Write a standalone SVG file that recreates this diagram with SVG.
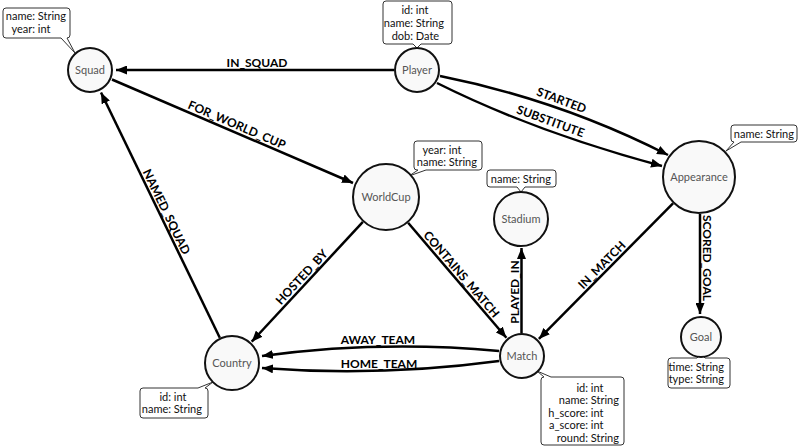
<svg xmlns="http://www.w3.org/2000/svg" width="800" height="446" viewBox="0 0 800 446">
<style>
.bg{fill:#fff}
.node circle{fill:#f9f9f9;stroke:#111;stroke-width:2}
.nl{font-family:Lato,"Open Sans",sans-serif;font-size:11px;fill:#555;text-anchor:middle}
.co{fill:#fff;stroke:#333;stroke-width:1}
.pr{font-family:Lato,"Open Sans",sans-serif;font-size:11px;fill:#111}
.e{fill:none;stroke:#000;stroke-width:2.5;marker-end:url(#ah)}
.el{font-family:Lato,"Open Sans",sans-serif;font-size:12px;font-weight:bold;fill:#000;text-anchor:middle}
</style>
<defs>
<marker id="ah" markerUnits="userSpaceOnUse" markerWidth="12" markerHeight="9" refX="11" refY="4.5" orient="auto">
<path d="M0,0 L11,4.5 L0,9 Z" fill="#000"/>
</marker>
</defs>
<rect class="bg" x="0" y="0" width="800" height="446"/>

<g id="connectors">
<path class="e" d="M394,70 L116,70"/>
<text class="el" transform="translate(257,70)" y="-3">IN_SQUAD</text>
<path class="e" d="M112,79.5 L353,183"/>
<text class="el" transform="translate(234,131.5) rotate(23.2)" y="-3">FOR_WORLD_CUP</text>
<path class="e" d="M219.8,337.8 L101,92.5"/>
<text class="el" transform="translate(160,215) rotate(64.2)" y="-3">NAMED_SQUAD</text>
<path class="e" d="M362.9,221.9 L251.7,341.7"/>
<text class="el" transform="translate(307,282) rotate(-47.1)" y="-3">HOSTED_BY</text>
<path class="e" d="M408.1,222.8 L506.4,337.8"/>
<text class="el" transform="translate(456,279) rotate(49.5)" y="-3">CONTAINS_MATCH</text>
<path class="e" d="M521.5,333 L521.5,248"/>
<text class="el" transform="translate(521.5,292) rotate(-90)" y="-3">PLAYED_IN</text>
<path class="e" d="M673,203.3 L538.9,338.9"/>
<text class="el" transform="translate(607,270) rotate(-45.3)" y="-3">IN_MATCH</text>
<path class="e" d="M700,214 L700,314"/>
<text class="el" transform="translate(700,258) rotate(90)" y="-3">SCORED_GOAL</text>
<path class="e" d="M499,351 Q380,340 262,356"/>
<text class="el" x="378" y="344">AWAY_TEAM</text>
<path class="e" d="M499,361 Q380,377 262,368"/>
<text class="el" x="379" y="368">HOME_TEAM</text>
<path class="e" d="M440,76 Q560,100 668,155"/>
<text class="el" transform="translate(559,107) rotate(20.5)" y="-3">STARTED</text>
<path class="e" d="M437,83 Q535,132 662,166"/>
<text class="el" transform="translate(548,128) rotate(20)" y="-3">SUBSTITUTE</text>
</g>

<g id="squad" class="node">
<path class="co" d="M6,8 H67 A3,3 0 0 1 70,11 V35 A3,3 0 0 1 67,38 L75,53 L61,38 H6 A3,3 0 0 1 3,35 V11 A3,3 0 0 1 6,8 Z"/>
<text class="pr" y="20"><tspan x="35" text-anchor="end">name:</tspan><tspan x="35"> String</tspan></text>
<text class="pr" y="33"><tspan x="35" text-anchor="end">year:</tspan><tspan x="35"> int</tspan></text>
<circle cx="90" cy="70" r="22"/>
<text class="nl" x="90" y="74">Squad</text>
</g>

<g id="player" class="node">
<path class="co" d="M386,1 H449 A3,3 0 0 1 452,4 V41 A3,3 0 0 1 449,44 H421 L417,48 L413,44 H386 A3,3 0 0 1 383,41 V4 A3,3 0 0 1 386,1 Z"/>
<text class="pr" y="14"><tspan x="413" text-anchor="end">id:</tspan><tspan x="413"> int</tspan></text>
<text class="pr" y="27"><tspan x="413" text-anchor="end">name:</tspan><tspan x="413"> String</tspan></text>
<text class="pr" y="40"><tspan x="413" text-anchor="end">dob:</tspan><tspan x="413"> Date</tspan></text>
<circle cx="417" cy="70" r="22"/>
<text class="nl" x="417" y="74">Player</text>
</g>

<g id="worldcup" class="node">
<path class="co" d="M417,141 H479 A3,3 0 0 1 482,144 V167 A3,3 0 0 1 479,170 H426 L409,176 L418,170 H417 A3,3 0 0 1 414,167 V144 A3,3 0 0 1 417,141 Z"/>
<text class="pr" y="154"><tspan x="446" text-anchor="end">year:</tspan><tspan x="446"> int</tspan></text>
<text class="pr" y="166"><tspan x="446" text-anchor="end">name:</tspan><tspan x="446"> String</tspan></text>
<circle cx="386" cy="197" r="33"/>
<text class="nl" x="386" y="201">WorldCup</text>
</g>

<g id="stadium" class="node">
<path class="co" d="M490,170 H553 A3,3 0 0 1 556,173 V184 A3,3 0 0 1 553,187 H525 L521,192 L517,187 H490 A3,3 0 0 1 487,184 V173 A3,3 0 0 1 490,170 Z"/>
<text class="pr" y="183"><tspan x="520" text-anchor="end">name:</tspan><tspan x="520"> String</tspan></text>
<circle cx="521" cy="219" r="27"/>
<text class="nl" x="521" y="223">Stadium</text>
</g>

<g id="appearance" class="node">
<path class="co" d="M734,125 H794 A3,3 0 0 1 797,128 V139 A3,3 0 0 1 794,142 H741 L726,151 L734,142 A3,3 0 0 1 731,139 V128 A3,3 0 0 1 734,125 Z"/>
<text class="pr" y="138"><tspan x="763" text-anchor="end">name:</tspan><tspan x="763"> String</tspan></text>
<circle cx="699" cy="177" r="36"/>
<text class="nl" x="699" y="181">Appearance</text>
</g>

<g id="goal" class="node">
<path class="co" d="M671,358 H697 L701,354 L705,358 H727 A3,3 0 0 1 730,361 V385 A3,3 0 0 1 727,388 H671 A3,3 0 0 1 668,385 V361 A3,3 0 0 1 671,358 Z"/>
<text class="pr" y="371"><tspan x="693" text-anchor="end">time:</tspan><tspan x="693"> String</tspan></text>
<text class="pr" y="383"><tspan x="693" text-anchor="end">type:</tspan><tspan x="693"> String</tspan></text>
<circle cx="701" cy="337" r="20"/>
<text class="nl" x="701" y="341">Goal</text>
</g>

<g id="country" class="node">
<path class="co" d="M143,388 H198 L213,382 L205,388 A3,3 0 0 1 208,391 V415 A3,3 0 0 1 205,418 H143 A3,3 0 0 1 140,415 V391 A3,3 0 0 1 143,388 Z"/>
<text class="pr" y="401"><tspan x="171" text-anchor="end">id:</tspan><tspan x="171"> int</tspan></text>
<text class="pr" y="413"><tspan x="171" text-anchor="end">name:</tspan><tspan x="171"> String</tspan></text>
<circle cx="232" cy="363" r="27"/>
<text class="nl" x="232" y="367">Country</text>
</g>

<g id="match" class="node">
<path class="co" d="M544,377 L537,371 L551,377 H621 A3,3 0 0 1 624,380 V442 A3,3 0 0 1 621,445 H544 A3,3 0 0 1 541,442 V380 A3,3 0 0 1 544,377 Z"/>
<text class="pr" y="391.5"><tspan x="588" text-anchor="end">id:</tspan><tspan x="588"> int</tspan></text>
<text class="pr" y="404"><tspan x="588" text-anchor="end">name:</tspan><tspan x="588"> String</tspan></text>
<text class="pr" y="416.5"><tspan x="588" text-anchor="end">h_score:</tspan><tspan x="588"> int</tspan></text>
<text class="pr" y="429"><tspan x="588" text-anchor="end">a_score:</tspan><tspan x="588"> int</tspan></text>
<text class="pr" y="441.5"><tspan x="588" text-anchor="end">round:</tspan><tspan x="588"> String</tspan></text>
<circle cx="522" cy="356" r="22"/>
<text class="nl" x="522" y="360">Match</text>
</g>
</svg>
